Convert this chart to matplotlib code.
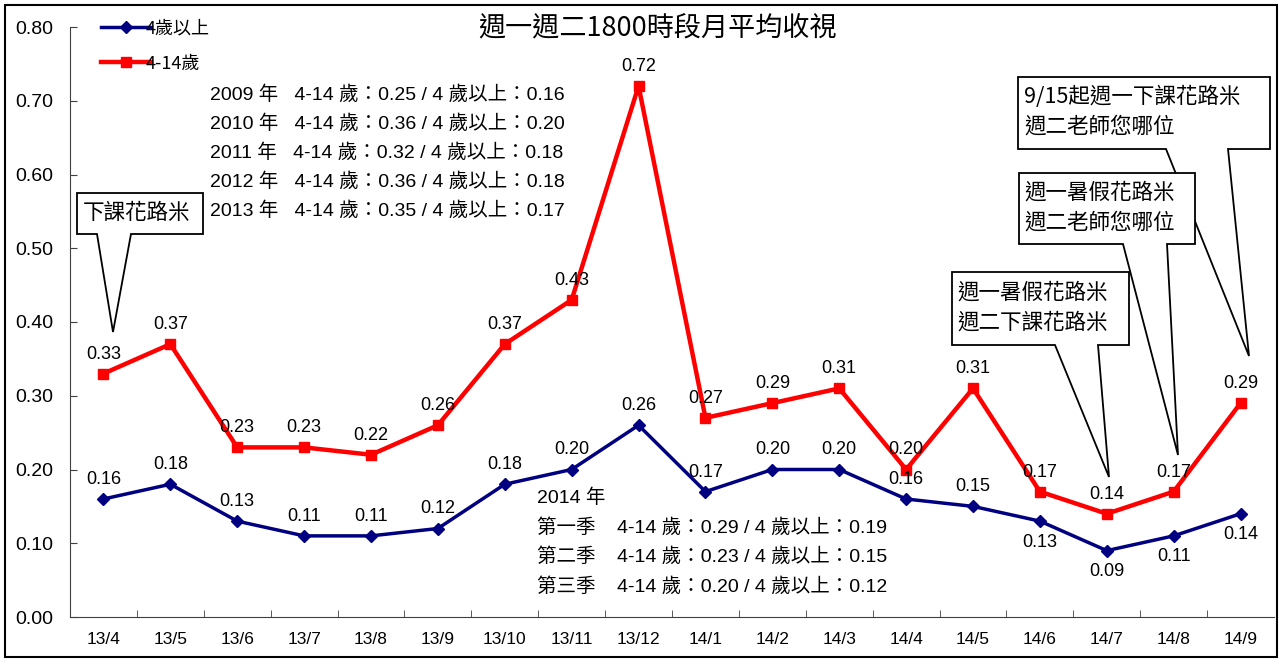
import matplotlib
matplotlib.use('Agg')
import matplotlib.pyplot as plt
from matplotlib.patches import Polygon, Rectangle

plt.rcParams['font.family'] = ['Liberation Sans', 'Noto Sans CJK TC', 'DejaVu Sans']
CJK = ['Noto Sans CJK TC', 'DejaVu Sans']

# 資料
months = ['13/4', '13/5', '13/6', '13/7', '13/8', '13/9', '13/10', '13/11', '13/12',
          '14/1', '14/2', '14/3', '14/4', '14/5', '14/6', '14/7', '14/8', '14/9']
kids = [0.33, 0.37, 0.23, 0.23, 0.22, 0.26, 0.37, 0.43, 0.72,
        0.27, 0.29, 0.31, 0.20, 0.31, 0.17, 0.14, 0.17, 0.29]
above4 = [0.16, 0.18, 0.13, 0.11, 0.11, 0.12, 0.18, 0.20, 0.26,
          0.17, 0.20, 0.20, 0.16, 0.15, 0.13, 0.09, 0.11, 0.14]
above4_below = ['14/6', '14/7', '14/8', '14/9']  # 標籤放在點下方

yearly = ['2009 年   4-14 歲：0.25 / 4 歲以上：0.16',
          '2010 年   4-14 歲：0.36 / 4 歲以上：0.20',
          '2011 年   4-14 歲：0.32 / 4 歲以上：0.18',
          '2012 年   4-14 歲：0.36 / 4 歲以上：0.18',
          '2013 年   4-14 歲：0.35 / 4 歲以上：0.17']
quarters = ['2014 年',
            '第一季    4-14 歲：0.29 / 4 歲以上：0.19',
            '第二季    4-14 歲：0.23 / 4 歲以上：0.15',
            '第三季    4-14 歲：0.20 / 4 歲以上：0.12']

W, H = 1282, 662
fig = plt.figure(figsize=(W / 100, H / 100), dpi=100)
ax = fig.add_axes([70 / W, 1 - 617 / H, (1274 - 70) / W, (617 - 27) / H])

x = list(range(len(months)))
ax.plot(x, kids, color='#ff0000', lw=3.2, marker='s', ms=7, label='4-14歲', zorder=3)
ax.plot(x, above4, color='#000080', lw=2.5, marker='D', ms=6, label='4歲以上', zorder=4)

for i, v in enumerate(kids):
    ax.text(i, v + 0.015, f'{v:.2f}', ha='center', va='bottom', fontsize=13)
for i, v in enumerate(above4):
    if months[i] in above4_below:
        ax.text(i, v - 0.017, f'{v:.2f}', ha='center', va='top', fontsize=13)
    else:
        ax.text(i, v + 0.015, f'{v:.2f}', ha='center', va='bottom', fontsize=13)

ax.set_xlim(-0.5, len(months) - 0.5)
ax.set_ylim(0, 0.8)
ax.set_yticks([i / 10 for i in range(9)])
ax.set_yticklabels([f'{i / 10:.2f}' for i in range(9)], fontsize=14)
ax.set_xticks(x)
ax.set_xticklabels(months, fontsize=12.5)
ax.set_xticks([i + 0.5 for i in range(len(months) - 1)], minor=True)
ax.tick_params(axis='x', which='major', length=0, pad=11)
ax.tick_params(axis='x', which='minor', direction='in', length=5, color='#404040')
ax.tick_params(axis='y', direction='in', length=5, color='#404040', pad=12)
for s in ['top', 'right']:
    ax.spines[s].set_visible(False)
ax.spines['left'].set_color('#404040')
ax.spines['bottom'].set_color('#404040')

h, l = ax.get_legend_handles_labels()
ax.legend(h[::-1], l[::-1], loc='upper left', bbox_to_anchor=(0.012, 1.04), frameon=False,
          prop={'family': CJK, 'size': 13}, handlelength=2.8, labelspacing=0.95,
          handletextpad=-0.3)

fig.text(658 / W, 1 - 28 / H, '週一週二1800時段月平均收視', ha='center', va='center',
         fontsize=19.5, family=CJK)

for k, t in enumerate(yearly):
    fig.text(210 / W, 1 - (95 + 29 * k) / H, t, ha='left', va='center', fontsize=14)
for k, t in enumerate(quarters):
    fig.text(537 / W, 1 - (498 + 29.5 * k) / H, t, ha='left', va='center', fontsize=14)


# 對話框
def callout(pts, lines, tx, ty, z):
    p = [(a / W, 1 - b / H) for a, b in pts]
    fig.patches.append(Polygon(p, closed=True, transform=fig.transFigure, fc='white',
                               ec='black', lw=1.3, zorder=z))
    for k, t in enumerate(lines):
        fig.text(tx / W, 1 - (ty + 30 * k) / H, t, ha='left', va='center', fontsize=15.5,
                 family=CJK, zorder=z + 0.5)


callout([(1018, 77), (1270, 77), (1270, 149), (1228, 149), (1249, 356), (1166, 149), (1018, 149)],
        ['9/15起週一下課花路米', '週二老師您哪位'], 1024, 97, 5)
callout([(1019, 173), (1195, 173), (1195, 244), (1167, 244), (1178, 455), (1123, 244), (1019, 244)],
        ['週一暑假花路米', '週二老師您哪位'], 1024, 193, 6)
callout([(952, 272), (1129, 272), (1129, 345), (1098, 345), (1109, 477), (1055, 345), (952, 345)],
        ['週一暑假花路米', '週二下課花路米'], 957, 293, 7)
callout([(77, 193), (203, 193), (203, 234), (131, 234), (113, 332), (97, 234), (77, 234)],
        ['下課花路米'], 83, 213, 8)

fig.patches.append(Rectangle((5 / W, 5 / H), (W - 10) / W, (H - 10) / H, transform=fig.transFigure,
                             fill=False, ec='black', lw=1.5))

fig.savefig('out.png', dpi=100)
